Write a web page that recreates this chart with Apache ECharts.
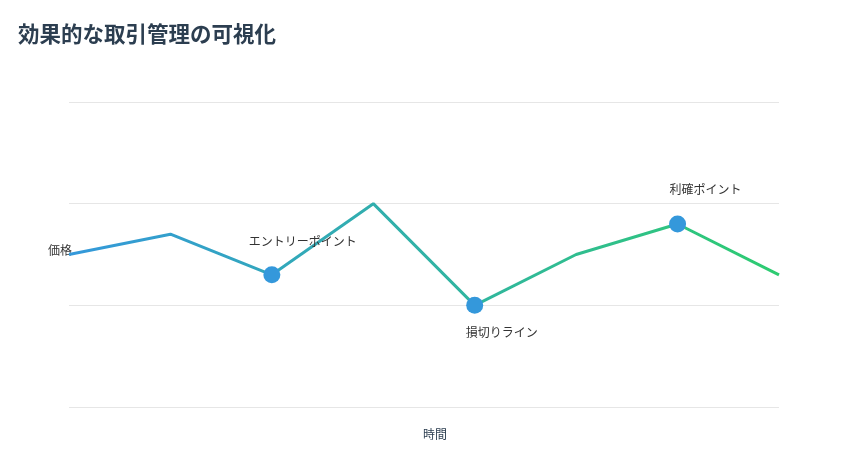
<!DOCTYPE html>
<html><head><meta charset="utf-8">
<script src="https://cdn.jsdelivr.net/npm/echarts@6/dist/echarts.min.js"></script>
<style>html,body{margin:0;padding:0;background:#fff}#c{width:842px;height:458px}</style>
</head><body><div id="c"></div>
<script>
const categories = ['t1','t2','t3','t4','t5','t6','t7','t8'];
const prices = [105, 107, 103, 110, 100, 105, 108, 103];
const keyIndex = [2, 4, 6];
const keyLabels = ['エントリーポイント', '損切りライン', '利確ポイント'];
const yTicks = [90, 100, 110, 120];

const chart = echarts.init(document.getElementById('c'));
const font = '"Noto Sans CJK JP", "Noto Sans", sans-serif';
const labelOffsets = [
  {position:'top', offset:[31,-14]},
  {position:'bottom', offset:[27,8]},
  {position:'top', offset:[28,-15]}
];
chart.setOption({
  animation: false,
  textStyle: {fontFamily: font},
  title: {text: '効果的な取引管理の可視化', left: 13, top: 18,
    textStyle: {fontSize: 21.5, fontWeight: 'bold', color: '#2c3e50', fontFamily: font}},
  grid: {left: 69, right: 63, top: 102, bottom: 51},
  xAxis: {type: 'category', data: categories, boundaryGap: false,
    name: '時間', nameLocation: 'middle', nameGap: 21,
    nameTextStyle: {color: '#2c3e50', fontSize: 12, padding: [0,0,0,22]},
    axisLine: {show: false}, axisTick: {show: false}, axisLabel: {show: false}},
  yAxis: {type: 'value', min: yTicks[0], max: yTicks[yTicks.length-1], interval: 10,
    name: '価格', nameLocation: 'middle', nameRotate: 0, nameGap: -3,
    nameTextStyle: {color: '#333', fontSize: 12, verticalAlign: 'bottom', lineHeight: 8},
    axisLine: {show: false}, axisTick: {show: false}, axisLabel: {show: false},
    splitLine: {lineStyle: {color: '#e6e6e6'}}},
  series: [
    {type: 'line', data: prices, showSymbol: false, smooth: false, z: 2,
      lineStyle: {width: 3, color: new echarts.graphic.LinearGradient(0,0,1,0,[
        {offset:0, color:'#3498db'}, {offset:1, color:'#2ecc71'}])}},
    {type: 'scatter', symbolSize: 17, z: 3, itemStyle: {color: '#3498db', opacity: 1},
      data: keyIndex.map((i, k) => ({value: [i, prices[i]],
        label: Object.assign({show: true, formatter: keyLabels[k], color: '#333', fontSize: 12}, labelOffsets[k])}))}
  ]
});
</script></body></html>
